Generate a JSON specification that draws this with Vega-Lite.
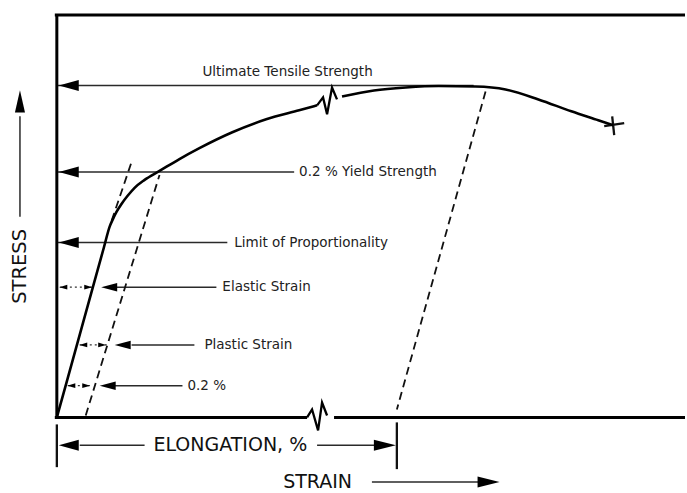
{
  "$schema": "https://vega.github.io/schema/vega-lite/v6.json",
  "width": 687,
  "height": 493,
  "autosize": {"type": "fit", "contains": "padding"},
  "padding": 0,
  "background": "white",
  "config": {"view": {"stroke": null}},
  "datasets": {
    "curve": [
      {"seg": "a", "strain": 0, "stress": 0},
      {"seg": "a", "strain": 4.0, "stress": 22.55},
      {"seg": "a", "strain": 7.5, "stress": 42.28},
      {"seg": "a", "strain": 8.41, "stress": 47.41},
      {"seg": "a", "strain": 8.89, "stress": 49.14},
      {"seg": "a", "strain": 9.52, "stress": 51.11},
      {"seg": "a", "strain": 10.32, "stress": 53.09},
      {"seg": "a", "strain": 11.27, "stress": 55.06},
      {"seg": "a", "strain": 12.38, "stress": 57.04},
      {"seg": "a", "strain": 13.97, "stress": 59.01},
      {"seg": "a", "strain": 16.35, "stress": 61.23},
      {"seg": "a", "strain": 19.52, "stress": 64.2},
      {"seg": "a", "strain": 22.7, "stress": 66.91},
      {"seg": "a", "strain": 27.94, "stress": 70.86},
      {"seg": "a", "strain": 33.33, "stress": 74.07},
      {"seg": "a", "strain": 38.57, "stress": 76.3},
      {"seg": "a", "strain": 41.43, "stress": 77.53},
      {"seg": "b", "strain": 45.4, "stress": 79.75},
      {"seg": "b", "strain": 50.48, "stress": 81.23},
      {"seg": "b", "strain": 55.56, "stress": 81.98},
      {"seg": "b", "strain": 60.79, "stress": 82.35},
      {"seg": "b", "strain": 66.67, "stress": 82.22},
      {"seg": "b", "strain": 71.43, "stress": 81.48},
      {"seg": "b", "strain": 76.67, "stress": 79.01},
      {"seg": "b", "strain": 81.9, "stress": 76.05},
      {"seg": "b", "strain": 86.19, "stress": 73.83},
      {"seg": "b", "strain": 88.57, "stress": 72.59}
    ],
    "zig": [
      {"seg": "curve", "strain": 41.43, "stress": 77.53},
      {"seg": "curve", "strain": 42.38, "stress": 79.51},
      {"seg": "curve", "strain": 43.02, "stress": 75.31},
      {"seg": "curve", "strain": 43.81, "stress": 81.98},
      {"seg": "curve", "strain": 44.6, "stress": 79.01},
      {"seg": "axis", "strain": 39.84, "stress": 0},
      {"seg": "axis", "strain": 40.63, "stress": 1.98},
      {"seg": "axis", "strain": 41.59, "stress": -3.21},
      {"seg": "axis", "strain": 42.22, "stress": 3.7},
      {"seg": "axis", "strain": 43.02, "stress": 0.49}
    ],
    "lines": [
      {"kind": "frame", "strain": 0, "stress": 0, "strain2": 0, "stress2": 100.25},
      {"kind": "frame", "strain": -0.32, "stress": 100, "strain2": 100, "stress2": 100},
      {"kind": "frame", "strain": -0.32, "stress": 0, "strain2": 39.84, "stress2": 0},
      {"kind": "frame", "strain": 44.13, "stress": 0, "strain2": 100, "stress2": 0},
      {"kind": "tick", "strain": 0, "stress": -1.73, "strain2": 0, "stress2": -12.35},
      {"kind": "tick", "strain": 54.13, "stress": -1.23, "strain2": 54.13, "stress2": -12.84},
      {"kind": "dashed", "strain": 8.73, "stress": 48.89, "strain2": 11.9, "stress2": 63.46},
      {"kind": "dashed", "strain": 4.6, "stress": 0.49, "strain2": 16.35, "stress2": 60.25},
      {"kind": "dashed", "strain": 68.25, "stress": 80.99, "strain2": 54.13, "stress2": 1.98},
      {"kind": "cross", "strain": 87.14, "stress": 72.35, "strain2": 90.32, "stress2": 73.09},
      {"kind": "cross", "strain": 88.41, "stress": 74.81, "strain2": 88.73, "stress2": 70.12},
      {"kind": "thin", "strain": 0, "stress": 82.47, "strain2": 66.35, "stress2": 82.47},
      {"kind": "thin", "strain": 0, "stress": 60.99, "strain2": 37.78, "stress2": 60.99},
      {"kind": "thin", "strain": 0, "stress": 43.46, "strain2": 27.14, "stress2": 43.46},
      {"kind": "thin", "strain": 9.21, "stress": 32.35, "strain2": 25.4, "stress2": 32.35},
      {"kind": "thin", "strain": 11.9, "stress": 18.02, "strain2": 21.9, "stress2": 18.02},
      {"kind": "thin", "strain": 9.21, "stress": 7.9, "strain2": 20.0, "stress2": 7.9},
      {"kind": "thin", "strain": 3.65, "stress": -6.91, "strain2": 13.97, "stress2": -6.91},
      {"kind": "thin", "strain": 41.43, "stress": -6.91, "strain2": 50.95, "stress2": -6.91},
      {"kind": "thin", "strain": 50.16, "stress": -16.05, "strain2": 67.94, "stress2": -16.05},
      {"kind": "thin", "strain": -5.87, "stress": 49.88, "strain2": -5.87, "stress2": 74.81},
      {"kind": "dotted", "strain": 0.48, "stress": 32.35, "strain2": 5.71, "stress2": 32.35},
      {"kind": "dotted", "strain": 3.65, "stress": 18.02, "strain2": 8.1, "stress2": 18.02},
      {"kind": "dotted", "strain": 1.75, "stress": 7.9, "strain2": 5.24, "stress2": 7.9}
    ],
    "arrows": [
      {"kind": "big", "dir": "left", "strain": 1.9, "stress": 82.47},
      {"kind": "big", "dir": "left", "strain": 1.9, "stress": 60.99},
      {"kind": "big", "dir": "left", "strain": 1.9, "stress": 43.46},
      {"kind": "big", "dir": "left", "strain": 1.9, "stress": -6.91},
      {"kind": "big", "dir": "right", "strain": 52.22, "stress": -6.91},
      {"kind": "big", "dir": "right", "strain": 68.73, "stress": -16.05},
      {"kind": "big", "dir": "up", "strain": -5.87, "stress": 78.52},
      {"kind": "mid", "dir": "left", "strain": 8.33, "stress": 32.35},
      {"kind": "mid", "dir": "left", "strain": 10.48, "stress": 18.02},
      {"kind": "mid", "dir": "left", "strain": 8.1, "stress": 7.9},
      {"kind": "small", "dir": "left", "strain": 1.03, "stress": 32.35},
      {"kind": "small", "dir": "left", "strain": 4.21, "stress": 18.02},
      {"kind": "small", "dir": "left", "strain": 2.3, "stress": 7.9},
      {"kind": "small", "dir": "right", "strain": 5.0, "stress": 32.35},
      {"kind": "small", "dir": "right", "strain": 7.22, "stress": 18.02},
      {"kind": "small", "dir": "right", "strain": 4.68, "stress": 7.9}
    ],
    "labels": [
      {"kind": "small", "text": "Ultimate Tensile Strength", "strain": 23.17, "stress": 85.93},
      {"kind": "small", "text": "0.2 % Yield Strength", "strain": 38.57, "stress": 60.99},
      {"kind": "small", "text": "Limit of Proportionality", "strain": 28.25, "stress": 43.46},
      {"kind": "small", "text": "Elastic Strain", "strain": 26.35, "stress": 32.35},
      {"kind": "small", "text": "Plastic Strain", "strain": 23.49, "stress": 18.02},
      {"kind": "small", "text": "0.2 %", "strain": 20.79, "stress": 7.9},
      {"kind": "big", "text": "ELONGATION, %", "strain": 27.62, "stress": -6.91},
      {"kind": "big", "text": "STRAIN", "strain": 41.51, "stress": -16.05},
      {"kind": "vertical", "text": "STRESS", "strain": -5.87, "stress": 37.53}
    ]
  },
  "layer": [
    {
      "data": {"name": "lines"},
      "transform": [{"filter": "datum.kind === 'thin'"}],
      "mark": {"type": "rule", "strokeWidth": 1.5, "color": "#2a2a2a"},
      "encoding": {
        "x": {"field": "strain", "type": "quantitative", "scale": {"domain": [-9.0476, 100], "nice": false, "zero": false}, "axis": null},
        "y": {"field": "stress", "type": "quantitative", "scale": {"domain": [-18.025, 103.704], "nice": false, "zero": false}, "axis": null},
        "x2": {"field": "strain2"},
        "y2": {"field": "stress2"}
      }
    },
    {
      "data": {"name": "lines"},
      "transform": [{"filter": "datum.kind === 'dotted'"}],
      "mark": {"type": "rule", "strokeWidth": 1.2, "color": "#333", "strokeDash": [2, 3]},
      "encoding": {
        "x": {"field": "strain", "type": "quantitative"},
        "y": {"field": "stress", "type": "quantitative"},
        "x2": {"field": "strain2"},
        "y2": {"field": "stress2"}
      }
    },
    {
      "data": {"name": "lines"},
      "transform": [{"filter": "datum.kind === 'dashed'"}],
      "mark": {"type": "rule", "strokeWidth": 1.8, "color": "#111", "strokeDash": [8, 5]},
      "encoding": {
        "x": {"field": "strain", "type": "quantitative"},
        "y": {"field": "stress", "type": "quantitative"},
        "x2": {"field": "strain2"},
        "y2": {"field": "stress2"}
      }
    },
    {
      "data": {"name": "lines"},
      "transform": [{"filter": "datum.kind === 'frame'"}],
      "mark": {"type": "rule", "strokeWidth": 3, "color": "#000"},
      "encoding": {
        "x": {"field": "strain", "type": "quantitative"},
        "y": {"field": "stress", "type": "quantitative"},
        "x2": {"field": "strain2"},
        "y2": {"field": "stress2"}
      }
    },
    {
      "data": {"name": "lines"},
      "transform": [{"filter": "datum.kind === 'tick' || datum.kind === 'cross'"}],
      "mark": {"type": "rule", "strokeWidth": 2.3, "color": "#111"},
      "encoding": {
        "x": {"field": "strain", "type": "quantitative"},
        "y": {"field": "stress", "type": "quantitative"},
        "x2": {"field": "strain2"},
        "y2": {"field": "stress2"}
      }
    },
    {
      "data": {"name": "curve"},
      "mark": {"type": "line", "strokeWidth": 2.6, "color": "#000", "interpolate": "monotone"},
      "encoding": {
        "x": {"field": "strain", "type": "quantitative"},
        "y": {"field": "stress", "type": "quantitative"},
        "detail": {"field": "seg"}
      }
    },
    {
      "data": {"name": "zig"},
      "mark": {"type": "line", "strokeWidth": 2.3, "color": "#000", "strokeJoin": "miter"},
      "encoding": {
        "x": {"field": "strain", "type": "quantitative"},
        "y": {"field": "stress", "type": "quantitative"},
        "detail": {"field": "seg"}
      }
    },
    {
      "data": {"name": "arrows"},
      "transform": [{"filter": "datum.kind === 'big' && datum.dir === 'left'"}],
      "mark": {"type": "point", "shape": "M-1,0L1,-0.55L1,0.55Z", "size": 400, "filled": true, "color": "#000", "opacity": 1},
      "encoding": {
        "x": {"field": "strain", "type": "quantitative"},
        "y": {"field": "stress", "type": "quantitative"}
      }
    },
    {
      "data": {"name": "arrows"},
      "transform": [{"filter": "datum.kind === 'big' && datum.dir === 'right'"}],
      "mark": {"type": "point", "shape": "M1,0L-1,-0.5L-1,0.5Z", "size": 484, "filled": true, "color": "#000", "opacity": 1},
      "encoding": {
        "x": {"field": "strain", "type": "quantitative"},
        "y": {"field": "stress", "type": "quantitative"}
      }
    },
    {
      "data": {"name": "arrows"},
      "transform": [{"filter": "datum.kind === 'big' && datum.dir === 'up'"}],
      "mark": {"type": "point", "shape": "M0,-1L-0.45,1L0.45,1Z", "size": 500, "filled": true, "color": "#000", "opacity": 1},
      "encoding": {
        "x": {"field": "strain", "type": "quantitative"},
        "y": {"field": "stress", "type": "quantitative"}
      }
    },
    {
      "data": {"name": "arrows"},
      "transform": [{"filter": "datum.kind === 'mid'"}],
      "mark": {"type": "point", "shape": "M-1,0L1,-0.53L1,0.53Z", "size": 256, "filled": true, "color": "#000", "opacity": 1},
      "encoding": {
        "x": {"field": "strain", "type": "quantitative"},
        "y": {"field": "stress", "type": "quantitative"}
      }
    },
    {
      "data": {"name": "arrows"},
      "transform": [{"filter": "datum.kind === 'small' && datum.dir === 'left'"}],
      "mark": {"type": "point", "shape": "M-1,0L1,-0.6L1,0.6Z", "size": 64, "filled": true, "color": "#000", "opacity": 1},
      "encoding": {
        "x": {"field": "strain", "type": "quantitative"},
        "y": {"field": "stress", "type": "quantitative"}
      }
    },
    {
      "data": {"name": "arrows"},
      "transform": [{"filter": "datum.kind === 'small' && datum.dir === 'right'"}],
      "mark": {"type": "point", "shape": "M1,0L-1,-0.6L-1,0.6Z", "size": 64, "filled": true, "color": "#000", "opacity": 1},
      "encoding": {
        "x": {"field": "strain", "type": "quantitative"},
        "y": {"field": "stress", "type": "quantitative"}
      }
    },
    {
      "data": {"name": "labels"},
      "transform": [{"filter": "datum.kind === 'small'"}],
      "mark": {"type": "text", "align": "left", "baseline": "middle", "font": "DejaVu Sans", "fontSize": 13.5, "color": "#222"},
      "encoding": {
        "x": {"field": "strain", "type": "quantitative"},
        "y": {"field": "stress", "type": "quantitative"},
        "text": {"field": "text"}
      }
    },
    {
      "data": {"name": "labels"},
      "transform": [{"filter": "datum.kind === 'big'"}],
      "mark": {"type": "text", "align": "center", "baseline": "middle", "font": "DejaVu Sans", "fontSize": 19, "color": "#111"},
      "encoding": {
        "x": {"field": "strain", "type": "quantitative"},
        "y": {"field": "stress", "type": "quantitative"},
        "text": {"field": "text"}
      }
    },
    {
      "data": {"name": "labels"},
      "transform": [{"filter": "datum.kind === 'vertical'"}],
      "mark": {"type": "text", "align": "center", "baseline": "middle", "font": "DejaVu Sans", "fontSize": 19.5, "color": "#111", "angle": 270},
      "encoding": {
        "x": {"field": "strain", "type": "quantitative"},
        "y": {"field": "stress", "type": "quantitative"},
        "text": {"field": "text"}
      }
    }
  ]
}
